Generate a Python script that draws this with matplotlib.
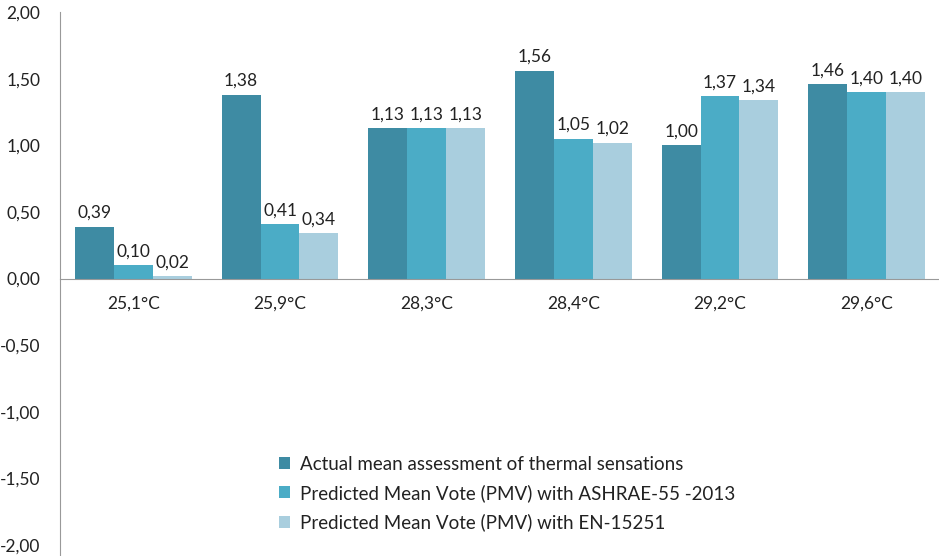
import numpy as np
import matplotlib.pyplot as plt

plt.rcParams['font.family'] = ['Lato', 'DejaVu Sans']

categories = ['25,1°C', '25,9°C', '28,3°C', '28,4°C', '29,2°C', '29,6°C']
actual = [0.39, 1.38, 1.13, 1.56, 1.00, 1.46]
pmv_ashrae = [0.10, 0.41, 1.13, 1.05, 1.37, 1.40]
pmv_en = [0.02, 0.34, 1.13, 1.02, 1.34, 1.40]
series_names = ['Actual mean assessment of thermal sensations',
                'Predicted Mean Vote (PMV) with ASHRAE-55 -2013',
                'Predicted Mean Vote (PMV) with EN-15251']
colors = ['#3E8BA3', '#4BACC6', '#A9CEDE']

fig = plt.figure(figsize=(9.39, 5.56), dpi=100)
ax = fig.add_axes([60 / 939, 11 / 556, 880 / 939, 533 / 556])

x = np.arange(len(categories))
w = 0.265
for i, (vals, name) in enumerate(zip([actual, pmv_ashrae, pmv_en], series_names)):
    pos = x + (i - 1) * w
    ax.bar(pos, vals, w, color=colors[i], label=name)
    for p, v in zip(pos, vals):
        ax.annotate(f'{v:.2f}'.replace('.', ','), (p, v), xytext=(0, 4),
                    textcoords='offset points', ha='center', va='bottom',
                    fontsize=12.5, color='#222222')

ax.set_xlim(-0.5, len(categories) - 0.5)
ax.set_ylim(-2, 2)
ax.set_yticks(np.arange(-2, 2.01, 0.5))
ax.set_yticklabels([f'{t:.2f}'.replace('.', ',') for t in np.arange(-2, 2.01, 0.5)])
ax.set_xticks(x)
ax.set_xticklabels(categories)
ax.tick_params(axis='both', length=0, labelsize=12.5, labelcolor='#222222')
ax.tick_params(axis='x', pad=12)
ax.tick_params(axis='y', pad=14)

ax.spines['top'].set_visible(False)
ax.spines['right'].set_visible(False)
ax.spines['bottom'].set_position(('data', 0))
ax.spines['bottom'].set_color('#999999')
ax.spines['left'].set_color('#999999')
ax.spines['left'].set_bounds(-2.1, 2)
ax.set_clip_on(False)

ax.legend(loc='upper left', bbox_to_anchor=(262 / 939, 1 - 439 / 556),
          bbox_transform=fig.transFigure, frameon=False, fontsize=13.5,
          handlelength=0.6, handleheight=0.6, handletextpad=0.5,
          labelspacing=0.6, labelcolor='#222222')

fig.savefig('out.png', dpi=100)
